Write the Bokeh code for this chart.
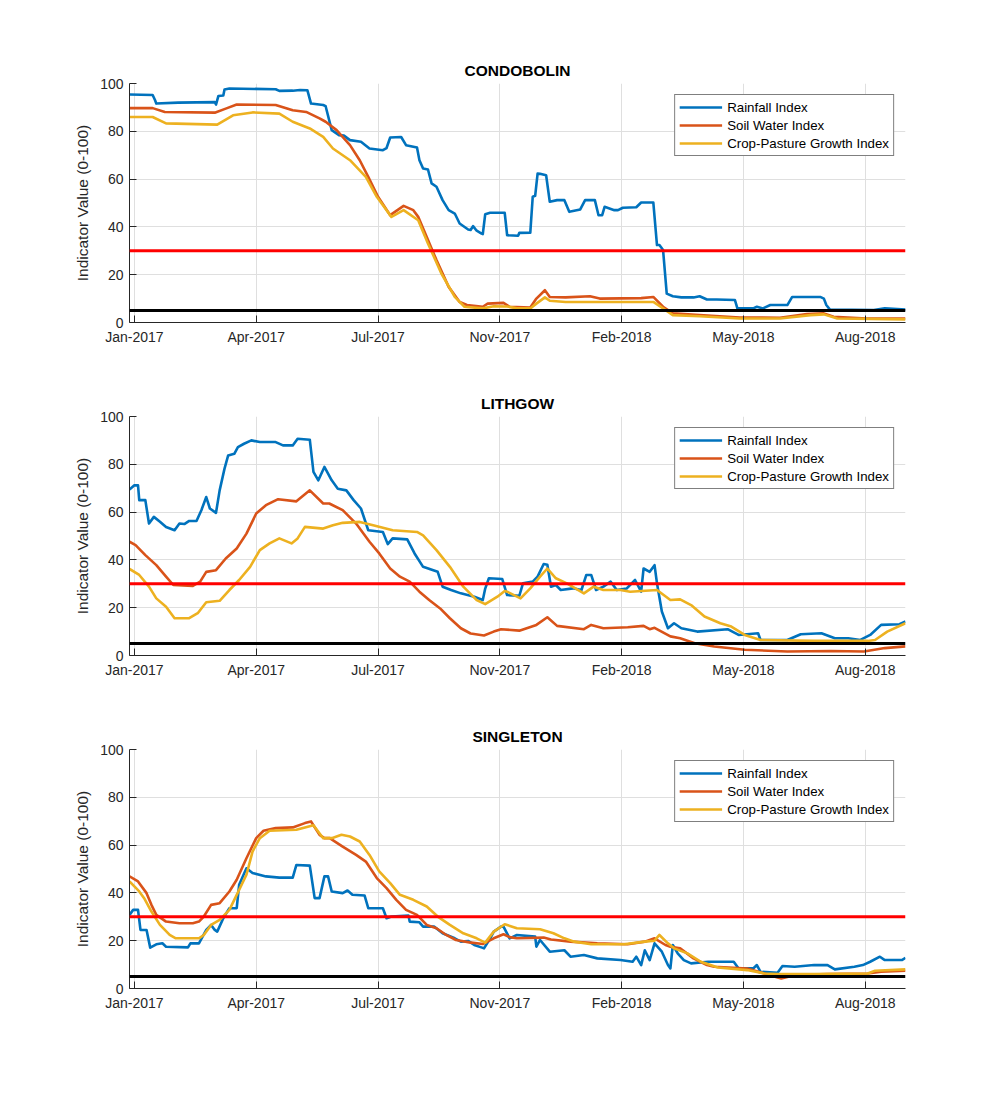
import pandas as pd
from bokeh.plotting import figure
from bokeh.models import FixedTicker, DatetimeTickFormatter, Span, Range1d
from bokeh.layouts import column
from bokeh.embed import file_html
from bokeh.resources import INLINE

# ---------------- data ----------------
START = "2017-01-01"
END = "2018-09-30"
x_tick_dates = ["2017-01-05", "2017-04-15", "2017-07-24", "2017-11-01",
                "2018-02-09", "2018-05-20", "2018-08-28"]
y_ticks = [0, 20, 40, 60, 80, 100]
series_names = ["Rainfall Index", "Soil Water Index", "Crop-Pasture Growth Index"]
sites = ["CONDOBOLIN", "LITHGOW", "SINGLETON"]
severe_threshold = 30
extreme_threshold = 5

# days since 2017-01-01 and index values
cond_rain_day = [0, 19, 21, 22, 40, 70, 71, 73, 77, 78, 82, 120, 123, 134, 140, 146, 149, 159, 161, 166,
                 172, 176, 181, 190, 197, 208, 211, 214, 223, 227, 236, 238, 241, 245, 248, 252, 257, 262,
                 267, 271, 278, 280, 282, 285, 289, 290, 292, 296, 308, 310, 319, 320, 329, 331, 333, 335,
                 337, 342, 345, 351, 357, 361, 370, 374, 382, 385, 388, 390, 398, 401, 405, 416, 420, 430,
                 433, 435, 438, 441, 446, 453, 463, 468, 474, 482, 497, 499, 512, 515, 520, 526, 540, 544,
                 567, 570, 572, 575, 611, 620, 637]
cond_rain_val = [95.4, 95.2, 93.0, 91.6, 92.0, 92.2, 91.2, 94.8, 95.0, 97.5, 97.9, 97.6, 96.9, 97.0, 97.3,
                 97.2, 91.6, 91.0, 90.5, 80.5, 78.4, 78.2, 76.3, 75.6, 72.8, 72.1, 73.0, 77.4, 77.6, 74.2,
                 73.2, 67.9, 64.4, 64.0, 58.2, 56.8, 51.2, 47.0, 45.6, 41.4, 38.9, 38.7, 40.3, 38.4, 37.2,
                 37.0, 45.3, 45.9, 45.9, 36.5, 36.3, 37.5, 37.6, 52.6, 53.0, 62.3, 62.2, 61.6, 50.5, 51.2,
                 51.2, 46.3, 47.3, 51.2, 51.2, 44.9, 44.9, 48.4, 47.0, 47.0, 48.0, 48.2, 50.2, 50.2, 32.4,
                 32.4, 30.3, 12.1, 11.0, 10.5, 10.5, 11.0, 9.6, 9.6, 9.4, 5.9, 5.9, 6.6, 5.9, 7.3, 7.3,
                 10.7, 10.7, 10.0, 7.3, 5.4, 5.2, 5.9, 5.4]
cond_soil_day = [0, 19, 29, 70, 79, 88, 120, 134, 145, 156, 161, 170, 181, 189, 196, 204, 214, 225, 233,
                 237, 244, 252, 262, 271, 277, 290, 294, 307, 312, 329, 334, 341, 345, 358, 378, 386, 420,
                 430, 438, 446, 468, 501, 534, 556, 570, 578, 605, 637]
cond_soil_val = [89.7, 89.7, 88.1, 87.8, 89.5, 91.2, 91.0, 88.8, 88.1, 85.4, 84.0, 80.5, 74.2, 67.9, 60.9,
                 52.6, 44.9, 48.8, 47.0, 44.2, 35.8, 26.1, 14.9, 8.6, 7.3, 6.6, 7.9, 8.2, 6.6, 6.3, 10.0,
                 13.5, 10.7, 10.5, 11.0, 10.0, 10.2, 10.7, 6.6, 3.8, 3.1, 2.1, 2.0, 3.5, 3.8, 2.4, 1.7, 1.7]
cond_crop_day = [0, 19, 30, 72, 85, 101, 123, 134, 148, 159, 167, 181, 194, 203, 215, 225, 237, 245, 256,
                 267, 275, 290, 299, 310, 318, 329, 334, 341, 345, 358, 430, 438, 446, 468, 501, 534, 559,
                 570, 581, 637]
cond_crop_val = [86.0, 86.0, 83.3, 82.8, 86.7, 87.9, 87.4, 84.0, 81.2, 77.7, 72.8, 67.9, 60.9, 52.6, 44.2,
                 47.0, 42.8, 33.1, 20.5, 10.7, 6.6, 5.9, 6.8, 6.7, 5.9, 5.9, 7.9, 10.5, 9.1, 8.6, 8.6, 5.9,
                 3.1, 2.6, 1.7, 1.7, 3.1, 3.4, 1.7, 1.3]

lith_rain_day = [0, 4, 7, 8, 13, 16, 20, 25, 30, 37, 41, 45, 49, 55, 59, 63, 66, 71, 74, 78, 81, 86, 89,
                 94, 100, 107, 120, 126, 134, 138, 148, 151, 155, 160, 166, 171, 178, 184, 190, 196, 208,
                 212, 216, 228, 234, 241, 253, 257, 264, 272, 283, 290, 292, 295, 306, 310, 320, 323, 331,
                 335, 340, 343, 346, 350, 354, 364, 371, 375, 379, 383, 389, 395, 400, 408, 415, 420, 422,
                 427, 431, 433, 437, 442, 447, 453, 466, 491, 500, 516, 518, 540, 551, 568, 579, 590, 600,
                 608, 617, 632, 637]
lith_rain_val = [69.4, 71.2, 71.2, 65.0, 65.0, 55.2, 58.0, 56.0, 53.8, 52.4, 55.2, 55.0, 56.3, 56.3, 60.8,
                 66.3, 61.5, 59.7, 69.1, 78.2, 83.7, 84.4, 87.2, 88.6, 90.0, 89.3, 89.3, 87.9, 87.9, 90.7,
                 90.3, 76.8, 73.3, 78.9, 73.3, 69.8, 69.1, 65.0, 61.5, 52.4, 51.7, 46.6, 49.0, 48.6, 42.7,
                 37.1, 35.0, 28.8, 27.4, 26.0, 24.6, 23.2, 28.0, 32.3, 32.0, 25.3, 25.0, 30.2, 30.9, 33.0,
                 38.3, 38.0, 28.8, 29.5, 27.4, 28.1, 27.4, 33.7, 33.7, 27.4, 28.8, 30.9, 27.4, 28.0, 31.6,
                 26.7, 36.4, 35.0, 37.8, 30.2, 18.4, 11.4, 13.5, 11.4, 10.0, 11.0, 8.6, 9.3, 6.5, 6.5, 8.9,
                 9.3, 7.2, 7.2, 6.5, 8.6, 12.8, 13.1, 14.2]
lith_soil_day = [0, 5, 13, 22, 30, 36, 52, 58, 63, 71, 79, 88, 96, 104, 112, 122, 137, 148, 159, 164, 175,
                 186, 197, 205, 214, 222, 230, 238, 246, 255, 263, 272, 280, 291, 299, 305, 320, 334, 343,
                 351, 373, 379, 389, 409, 422, 427, 431, 444, 452, 464, 480, 505, 540, 576, 603, 620, 637]
lith_soil_val = [47.6, 46.2, 42.0, 37.8, 33.0, 29.5, 29.1, 30.9, 35.0, 35.7, 40.6, 44.8, 51.0, 59.4, 62.9,
                 65.4, 64.5, 69.1, 63.6, 63.6, 60.8, 55.2, 47.6, 42.7, 36.4, 33.0, 30.9, 26.7, 23.2, 19.7,
                 15.6, 11.4, 9.2, 8.4, 10.0, 11.0, 10.4, 12.8, 16.0, 12.4, 11.0, 12.8, 11.4, 11.8, 12.4,
                 11.0, 11.6, 8.0, 7.2, 5.1, 3.8, 2.4, 1.7, 1.9, 1.7, 3.1, 3.8]
lith_crop_day = [0, 8, 16, 22, 30, 37, 49, 56, 63, 74, 82, 90, 99, 107, 115, 123, 133, 138, 144, 159, 167,
                 175, 189, 200, 216, 236, 241, 252, 263, 274, 285, 292, 302, 308, 310, 321, 329, 337, 343,
                 350, 359, 373, 381, 389, 403, 411, 433, 444, 452, 461, 472, 485, 494, 505, 518, 562, 606,
                 612, 622, 637]
lith_crop_val = [36.2, 33.7, 28.8, 23.9, 20.4, 15.6, 15.6, 17.7, 22.3, 22.9, 27.4, 31.6, 37.1, 44.1, 46.9,
                 49.0, 46.9, 49.0, 53.8, 53.1, 54.5, 55.5, 55.9, 54.5, 52.4, 51.7, 50.3, 44.1, 37.1, 28.8,
                 23.2, 21.5, 24.6, 27.0, 26.7, 23.9, 28.1, 33.0, 36.4, 32.3, 30.2, 26.0, 28.8, 27.4, 27.4,
                 26.7, 27.4, 23.2, 23.5, 21.1, 16.3, 13.5, 12.1, 8.6, 6.5, 6.1, 6.1, 6.5, 10.0, 13.5]

sing_rain_day = [0, 3, 7, 9, 14, 17, 22, 27, 30, 48, 50, 57, 63, 67, 70, 72, 77, 82, 88, 90, 96, 101, 112,
                 123, 134, 137, 148, 152, 156, 160, 163, 166, 175, 179, 183, 193, 196, 208, 211, 215, 229,
                 230, 238, 241, 250, 257, 267, 272, 278, 283, 290, 291, 296, 299, 305, 307, 312, 318, 333,
                 334, 337, 345, 357, 362, 373, 384, 403, 413, 416, 420, 423, 427, 431, 437, 442, 444, 446,
                 450, 455, 461, 475, 496, 500, 512, 515, 518, 532, 536, 546, 562, 573, 579, 595, 602, 608,
                 616, 620, 634, 637]
sing_rain_val = [30.8, 32.9, 32.9, 24.5, 24.5, 17.1, 18.5, 18.9, 17.5, 17.2, 18.9, 18.9, 24.5, 26.6, 24.5,
                 23.8, 29.4, 33.6, 33.6, 43.4, 50.3, 48.3, 46.9, 46.4, 46.4, 51.7, 51.4, 37.8, 37.8, 46.9,
                 46.9, 40.6, 39.9, 41.0, 39.2, 38.9, 33.6, 33.6, 29.4, 30.1, 30.5, 28.0, 27.7, 25.9, 25.9,
                 23.1, 21.0, 19.6, 19.9, 18.2, 17.0, 16.8, 20.9, 23.8, 25.9, 25.9, 21.0, 22.4, 21.7, 17.5,
                 20.3, 15.4, 16.0, 13.3, 14.0, 12.6, 11.9, 11.2, 13.3, 9.8, 16.0, 11.9, 18.9, 15.4, 9.8,
                 8.4, 18.2, 14.7, 11.9, 10.5, 11.2, 11.2, 8.4, 8.4, 9.8, 7.0, 6.6, 9.4, 9.1, 9.8, 9.8, 8.0,
                 9.1, 9.8, 11.2, 13.3, 11.9, 11.9, 12.8]
sing_soil_day = [0, 7, 14, 18, 22, 30, 41, 52, 57, 61, 67, 74, 82, 88, 96, 104, 110, 120, 134, 144, 149,
                 156, 160, 164, 175, 186, 194, 203, 211, 219, 227, 236, 244, 252, 260, 268, 279, 290, 299,
                 307, 312, 318, 340, 346, 362, 384, 409, 423, 431, 440, 444, 452, 463, 474, 480, 507, 521,
                 532, 535, 546, 573, 606, 617, 637]
sing_soil_val = [46.9, 44.8, 39.9, 35.0, 30.8, 28.0, 27.3, 27.3, 28.0, 30.1, 35.0, 35.7, 40.6, 45.5, 54.5,
                 62.9, 66.0, 67.1, 67.4, 69.2, 69.9, 64.3, 62.9, 63.0, 59.4, 55.9, 53.1, 46.2, 42.0, 37.1,
                 32.9, 30.8, 26.6, 25.2, 22.4, 20.3, 19.3, 18.6, 21.0, 22.7, 21.5, 21.0, 21.3, 20.5, 19.6,
                 18.9, 18.5, 19.6, 21.0, 18.2, 17.5, 16.8, 12.6, 9.8, 9.1, 8.4, 6.3, 4.6, 4.2, 5.6, 6.0,
                 6.3, 7.0, 7.4]
sing_crop_day = [0, 8, 12, 18, 25, 33, 38, 57, 61, 67, 74, 82, 88, 96, 101, 107, 115, 137, 151, 159, 166,
                 174, 181, 189, 197, 205, 214, 222, 233, 244, 253, 263, 274, 285, 292, 299, 308, 318, 337,
                 348, 357, 365, 379, 406, 423, 431, 435, 442, 447, 458, 469, 483, 507, 521, 532, 562, 606,
                 612, 637]
sing_crop_val = [44.8, 40.6, 37.8, 32.2, 26.6, 22.4, 21.0, 21.0, 22.4, 26.6, 28.7, 32.9, 39.2, 47.6, 57.3,
                 62.9, 66.0, 66.4, 68.3, 62.9, 62.9, 64.3, 63.6, 61.5, 55.9, 49.0, 44.1, 39.2, 37.1, 34.3,
                 30.1, 26.6, 23.1, 21.0, 19.2, 23.8, 26.9, 25.2, 24.8, 23.1, 21.0, 19.6, 18.5, 18.5, 19.6,
                 20.0, 22.4, 18.9, 16.8, 14.7, 11.2, 8.8, 7.7, 6.3, 6.0, 6.0, 6.3, 7.4, 8.0]

site_data = {
    "CONDOBOLIN": [(cond_rain_day, cond_rain_val), (cond_soil_day, cond_soil_val), (cond_crop_day, cond_crop_val)],
    "LITHGOW": [(lith_rain_day, lith_rain_val), (lith_soil_day, lith_soil_val), (lith_crop_day, lith_crop_val)],
    "SINGLETON": [(sing_rain_day, sing_rain_val), (sing_soil_day, sing_soil_val), (sing_crop_day, sing_crop_val)],
}

# ---------------- style ----------------
COLORS = ["#0072BD", "#D95319", "#EDB120"]
FONT = "Liberation Sans"
AX = "#262626"
GRID = "#dfdfdf"


def to_dates(days):
    return pd.Timestamp(START) + pd.to_timedelta(days, unit="D")


tick_ms = [pd.Timestamp(d).value / 1e6 for d in x_tick_dates]
fmt = "%b-%Y"


def make_panel(name, height, top, bottom):
    p = figure(width=984, height=height, x_axis_type="datetime",
               x_range=Range1d(pd.Timestamp(START), pd.Timestamp(END)),
               y_range=Range1d(0, 100), output_backend="svg", toolbar_location=None,
               min_border_left=129, min_border_right=79,
               min_border_top=top, min_border_bottom=bottom)
    p.title.text = name
    p.title.align = "center"
    p.title.text_font = FONT
    p.title.text_font_size = "15.5px"
    p.title.text_font_style = "bold"
    p.title.text_color = "#000000"
    p.outline_line_color = None
    p.background_fill_color = "white"
    p.border_fill_color = "white"

    for (days, vals), label, c in zip(site_data[name], series_names, COLORS):
        p.line(to_dates(days), vals, line_color=c, line_width=2.6,
               line_join="round", legend_label=label)

    p.add_layout(Span(location=severe_threshold, dimension="width", line_color="#ff0000", line_width=3))
    p.add_layout(Span(location=extreme_threshold, dimension="width", line_color="#000000", line_width=3))

    p.xaxis.ticker = FixedTicker(ticks=tick_ms)
    p.xaxis.formatter = DatetimeTickFormatter(
        milliseconds=fmt, seconds=fmt, minsec=fmt, minutes=fmt, hourmin=fmt,
        hours=fmt, days=fmt, months=fmt, years=fmt)
    p.yaxis.ticker = FixedTicker(ticks=y_ticks)

    for ax in (p.xaxis[0], p.yaxis[0]):
        ax.axis_line_color = AX
        ax.axis_line_width = 1
        ax.major_tick_line_color = AX
        ax.major_tick_in = 7
        ax.major_tick_out = 0
        ax.minor_tick_line_color = None
        ax.major_label_text_font = FONT
        ax.major_label_text_font_size = "14px"
        ax.major_label_text_color = AX
        ax.major_label_standoff = 6
    p.yaxis.axis_label = "Indicator Value (0-100)"
    p.yaxis.axis_label_text_font = FONT
    p.yaxis.axis_label_text_font_size = "15.5px"
    p.yaxis.axis_label_text_font_style = "normal"
    p.yaxis.axis_label_text_color = AX
    p.yaxis.axis_label_standoff = 6

    p.xgrid.grid_line_color = GRID
    p.ygrid.grid_line_color = GRID

    lg = p.legend[0]
    lg.location = "top_right"
    lg.margin = 11
    lg.padding = 4
    lg.spacing = 2
    lg.glyph_width = 43
    lg.glyph_height = 16
    lg.label_height = 16
    lg.label_standoff = 5
    lg.label_text_font = FONT
    lg.label_text_font_size = "13.3px"
    lg.label_text_color = "#000000"
    lg.border_line_color = "#000000"
    lg.border_line_width = 1
    lg.background_fill_color = "white"
    lg.background_fill_alpha = 1.0
    return p


p1 = make_panel("CONDOBOLIN", 354, 83, 32)
p2 = make_panel("LITHGOW", 333, 62, 32)
p3 = make_panel("SINGLETON", 333, 62, 32)

layout = column(p1, p2, p3)
open("out.html", "w").write(file_html(layout, INLINE))
